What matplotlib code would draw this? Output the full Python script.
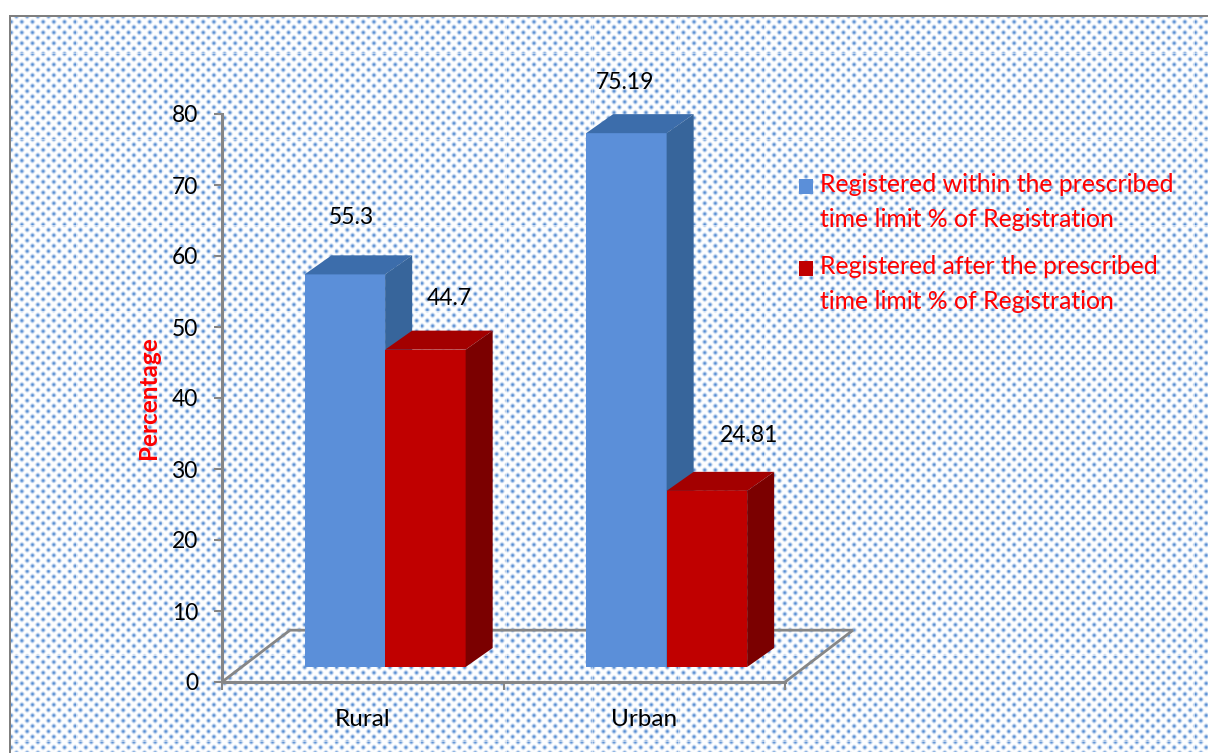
import numpy as np
import matplotlib
matplotlib.use("Agg")
import matplotlib.pyplot as plt
from matplotlib.patches import Patch, Polygon

categories = ["Rural", "Urban"]
within_limit = [55.3, 75.19]
after_limit = [44.7, 24.81]
y_ticks = [0, 10, 20, 30, 40, 50, 60, 70, 80]
legend_labels = ["Registered within the prescribed\ntime limit % of Registration",
                 "Registered after the prescribed\ntime limit % of Registration"]

W, H = 1208, 753
plt.rcParams["font.family"] = ["Lato", "DejaVu Sans"]

fig = plt.figure(figsize=(W / 100, H / 100), dpi=100, facecolor="white")

# dotted page texture
yy, xx = np.mgrid[0:H, 0:W]
a = 10.67
dots = ((1 + np.cos(2 * np.pi * (xx + yy) / a)) * (1 + np.cos(2 * np.pi * (xx - yy) / a)) / 4) ** 1.4
for c in range(0, 16):
    dots[:, (76 + 86 * c) % W] *= 0.5
    dots[min(53 + 86 * c, H - 1), :] *= 0.5
dot_col = np.array([85, 140, 210]) / 255
img = 1 - dots[..., None] * (1 - dot_col)
img[:, :10] = 1
img[:16, :] = 1
img[15:17, 9:] = 0.5
img[15:, 9:11] = 0.5
fig.figimage(img, xo=0, yo=0, origin="upper", zorder=-1)

ax = fig.add_axes([222 / W, (H - 682) / H, (785 - 222) / W, (682 - 114) / H])
ax.patch.set_alpha(0)
ax.set_xlim(-0.5, 1.5)
ax.set_ylim(0, 80)

grey = "#868686"
for s in ["top", "right"]:
    ax.spines[s].set_visible(False)
for s in ["left", "bottom"]:
    ax.spines[s].set_color(grey)
    ax.spines[s].set_linewidth(2.2)

ax.set_yticks(y_ticks)
ax.set_xticks([-0.5, 0.5, 1.5], ["", "", ""])
ax.set_xticks([0, 1], categories, minor=True)
ax.tick_params(axis="y", colors=grey, length=6, width=1.5, labelcolor="black", labelsize=16.4, pad=11)
ax.tick_params(axis="x", which="major", colors=grey, length=6, width=1.5)
ax.tick_params(axis="x", which="minor", length=0, labelcolor="black", labelsize=17.5, pad=19.5)
ax.set_ylabel("Percentage", color="#ff0000", fontweight="bold", fontsize=17.5, labelpad=9)

# floor of the 3d box, in data units
fx, fy = 0.2416, 7.3
floor = [(-0.5, 0), (-0.5 + fx, fy), (1.5 + fx, fy), (1.5, 0)]
ax.add_patch(Polygon(floor, closed=False, fill=False, edgecolor=grey, linewidth=2, clip_on=False, zorder=1))

# bars: front face is lifted off the floor, top and side faces give the depth
lift_x, lift_y = 0.0795, 2.11
dep_x, dep_y = 0.096, 2.68
bar_w = 0.286


def bar3d(x, v, front, top, side):
    ax.bar(x, v, bar_w, bottom=lift_y, align="edge", color=front, clip_on=False, zorder=3)
    y1 = v + lift_y
    ax.add_patch(Polygon([(x, y1), (x + dep_x, y1 + dep_y), (x + bar_w + dep_x, y1 + dep_y), (x + bar_w, y1)],
                         facecolor=top, edgecolor="none", clip_on=False, zorder=3))
    ax.add_patch(Polygon([(x + bar_w, lift_y), (x + bar_w + dep_x, lift_y + dep_y),
                          (x + bar_w + dep_x, y1 + dep_y), (x + bar_w, y1)],
                         facecolor=side, edgecolor="none", clip_on=False, zorder=3))


label_off = [(6, 57), (24, 51), (-1, 51), (42, 55)]
k = 0
for i in range(len(categories)):
    x0 = i + lift_x - bar_w
    bar3d(x0, within_limit[i], "#5b8fd9", "#3c6dab", "#37659b")
    bar3d(x0 + bar_w, after_limit[i], "#c00000", "#a30000", "#7b0000")
    for xb, v in [(x0, within_limit[i]), (x0 + bar_w, after_limit[i])]:
        ax.annotate(str(v), (xb + bar_w / 2, v + lift_y), xytext=label_off[k], textcoords="offset pixels",
                    ha="center", va="center", fontsize=16.5, color="black", annotation_clip=False, zorder=5)
        k += 1

handles = [Patch(facecolor="#5b8fd9"), Patch(facecolor="#c00000")]
leg = fig.legend(handles, legend_labels, loc="upper left", bbox_to_anchor=(799 / W, 1 - 173 / H),
                 frameon=False, fontsize=17.8, labelcolor="#ff0000", handlelength=0.56, handleheight=0.56,
                 handletextpad=0.3, labelspacing=1.0, borderpad=0, borderaxespad=0)
for t in leg.get_texts():
    t.set_linespacing(1.61)
# handles sit on the first text line
for h in leg.legend_handles:
    h.set_y(h.get_y() + 11.5)

fig.savefig("out.png", dpi=100)
